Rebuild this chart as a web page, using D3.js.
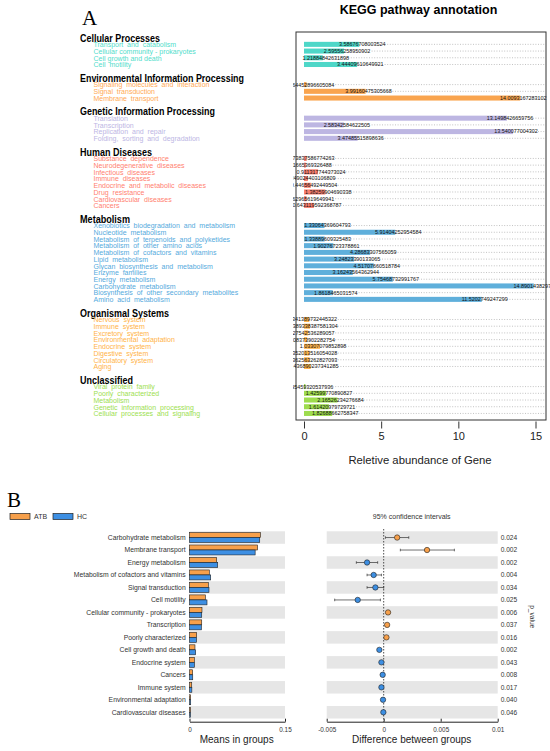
<!DOCTYPE html>
<html>
<head>
<meta charset="utf-8">
<script src="https://cdn.jsdelivr.net/npm/d3@7"></script>
<style>
  body { margin: 0; background: #fff; }
  svg { font-family: "Liberation Sans", Arial, sans-serif; }
  .lab { white-space: pre; }
</style>
</head>
<body>
<div id="chart"></div>
<script>
// ---- A: KEGG pathway annotation ----
var keggCategories = ["Cellular Processes", "Environmental Information Processing", "Genetic Information Processing",
  "Human Diseases", "Metabolism", "Organismal Systems", "Unclassified"];

var keggPathways = [
  ["Transport  and  catabolism", "Cellular community - prokaryotes", "Cell growth and death", "Cell  motility"],
  ["Signaling  molecules  and  interaction", "Signal  transduction", "Membrane  transport"],
  ["Translation", "Transcription", "Replication  and  repair", "Folding,  sorting  and  degradation"],
  ["Substance  dependence", "Neurodegenerative  diseases", "Infectious  diseases", "Immune  diseases",
   "Endocrine  and  metabolic  diseases", "Drug  resistance", "Cardiovascular  diseases", "Cancers"],
  ["Xenobiotics  biodegradation  and  metabolism", "Nucleotide  metabolism", "Metabolism  of  terpenoids  and  polyketides",
   "Metabolism  of  other  amino  acids", "Metabolism  of  cofactors  and  vitamins", "Lipid  metabolism",
   "Glycan  biosynthesis  and  metabolism", "Enzyme  families", "Energy  metabolism", "Carbohydrate  metabolism",
   "Biosynthesis  of  other  secondary  metabolites", "Amino  acid  metabolism"],
  ["Nervous  system", "Immune  system", "Excretory  system", "Environmental  adaptation", "Endocrine  system",
   "Digestive  system", "Circulatory  system", "Aging"],
  ["Viral  protein  family", "Poorly  characterized", "Metabolism", "Genetic  information  processing",
   "Cellular  processes  and  signaling"]
];

var keggValues = [
  [3.58676708003524, 2.59556258950902, 1.21884842631898, 3.44409610649921],
  [0.164452896605084, 3.99160475305668, 14.0093167283102],
  [13.1498426659756, 2.58342584622505, 13.540077004302, 3.47485515898636],
  [0.173837586774263, 0.11665369326488, 0.911317744373024, 0.249024403106809,
   0.44656492449504, 1.38259904690338, 0.162965619649941, 0.643119592368787],
  [1.33064369604793, 5.91404252954584, 1.33889609325483, 1.90276723378861, 4.28683307565059, 3.24823390133065,
   4.51707660518784, 3.16243564362944, 5.75468732991767, 14.8901438297154, 1.8618465031574, 11.5202749247299],
  [0.341389732445322, 0.389338387581304, 0.27542536289057, 0.208373902282754, 1.03307079852898,
   0.352013516054028, 0.362563262827093, 0.436890237341285],
  [0.095459320537936, 1.42599770890827, 2.16526234276684, 1.61420979729721, 1.82688662758347]
];

var keggTicks = [0, 5, 10, 15];

// ---- B: STAMP comparison ----
var stampPathways = ["Carbohydrate metabolism", "Membrane transport", "Energy metabolism",
  "Metabolism of cofactors and vitamins", "Signal transduction", "Cell motility",
  "Cellular community - prokaryotes", "Transcription", "Poorly characterized", "Cell growth and death",
  "Endocrine system", "Cancers", "Immune system", "Environmental adaptation", "Cardiovascular diseases"];
var atbMeans = [0.1115, 0.1070, 0.0427, 0.0311, 0.0296, 0.0249, 0.0196, 0.0192, 0.0113, 0.0086, 0.0076, 0.0050, 0.0035, 0.0018, 0.0016];
var hcMeans  = [0.1103, 0.1031, 0.0443, 0.0333, 0.0306, 0.0275, 0.0192, 0.0187, 0.0111, 0.0097, 0.0078, 0.0051, 0.0037, 0.0019, 0.0016];
var diffValues = [0.00118, 0.0038, -0.00146, -0.00088, -0.00073, -0.00228, 0.00038, 0.0003, 0.00024, -0.00038, -0.0002, -0.00009, -0.0002, -0.00006, -0.00003];
var ciLow  = [0.00015, 0.00146, -0.0024, -0.00146, -0.00146, -0.0043, 0.00022, 0.00017, 0.00012, -0.0005, -0.0003, -0.00015, -0.00032, -0.0001, -0.00007];
var ciHigh = [0.0022, 0.0062, -0.00053, -0.0002, 0.0, -0.00029, 0.00054, 0.00043, 0.00036, -0.00026, -0.0001, -0.00003, -0.00008, -0.00002, 0.00001];
var pValues = ["0.024", "0.002", "0.002", "0.004", "0.034", "0.025", "0.006", "0.037", "0.016", "0.002", "0.043", "0.008", "0.017", "0.040", "0.046"];
var groupNames = ["ATB", "HC"];

var catColors = ["#4ED7C8", "#F9A44E", "#BDB6E2", "#F97F6F", "#5FAFDB", "#FFB54E", "#9EDC4E"];
var labColors = ["#52DDCB", "#FFAA55", "#BCB6E4", "#FF7F70", "#55AADD", "#FFB347", "#9DE04F"];
var groupColors = ["#F7A04B", "#3D8FE3"];

var svg = d3.select("#chart").append("svg")
    .attr("width", 550)
    .attr("height", 751);

// ---------------- Panel A ----------------
svg.append("text").attr("x", 82).attr("y", 25)
    .style("font-family", "'Liberation Serif', 'Times New Roman', serif")
    .style("font-size", "21px").text("A");

svg.append("text").attr("x", 418.5).attr("y", 14).attr("text-anchor", "middle")
    .style("font-size", "12.5px").style("font-weight", "bold").text("KEGG pathway annotation");

// flatten rows, leave two empty rows between categories
var rows = [];
var idx = 0;
keggPathways.forEach(function(list, c) {
  list.forEach(function(name, j) {
    rows.push({cat: c, name: name, value: keggValues[c][j], row: idx, first: j == 0});
    idx++;
  });
  idx += 2;
});
var nRows = idx - 2;

var yA = d3.scaleBand().domain(d3.range(nRows)).range([41, 416.8]).paddingInner(0.25).paddingOuter(0.125);
var xA = d3.scaleLinear().domain([0, 15]).range([304, 535.5]);
var yMid = function(d) { return yA(d.row) + yA.bandwidth() / 2; };

// frame
svg.append("rect").attr("x", 296).attr("y", 32).attr("width", 250).attr("height", 388)
    .attr("fill", "none").attr("stroke", "#333").attr("stroke-width", 1);

// dotted guide lines
svg.selectAll(".guide").data(rows).enter().append("line")
    .attr("x1", xA(0)).attr("x2", 545)
    .attr("y1", yMid).attr("y2", yMid)
    .attr("stroke", "#9a9a9a").attr("stroke-width", 0.6).attr("stroke-dasharray", "1,1.6");

svg.selectAll(".bar").data(rows).enter().append("rect")
    .attr("x", xA(0))
    .attr("y", function(d) { return yA(d.row); })
    .attr("width", function(d) { return xA(d.value) - xA(0); })
    .attr("height", yA.bandwidth())
    .attr("fill", function(d) { return catColors[d.cat]; });

svg.append("clipPath").attr("id", "clipA").append("rect")
    .attr("x", 293).attr("y", 30).attr("width", 257).attr("height", 395);

svg.append("g").attr("clip-path", "url(#clipA)")
  .selectAll("text").data(rows).enter().append("text")
    .attr("x", function(d) { return xA(d.value) + 3; })
    .attr("y", function(d) { return yMid(d) + 1.9; })
    .attr("text-anchor", "middle")
    .style("font-size", "5.4px").attr("fill", "#111")
    .text(function(d) { return String(d.value); });

// category headers and pathway labels
rows.filter(function(d) { return d.first; }).forEach(function(d) {
  var widths = [80, 164, 135, 72, 50, 89, 53];
  svg.append("text").attr("x", 80).attr("y", yMid(d) - 2.7)
      .attr("textLength", widths[d.cat]).attr("lengthAdjust", "spacingAndGlyphs")
      .style("font-size", "10px").style("font-weight", "bold").attr("fill", "#000")
      .text(keggCategories[d.cat]);
});

svg.selectAll(".lab").data(rows).enter().append("text")
    .attr("class", "lab")
    .attr("x", 93.5)
    .attr("y", function(d) { return yMid(d) + 2.8; })
    .style("font-size", "7px")
    .attr("fill", function(d) { return labColors[d.cat]; })
    .text(function(d) { return d.name; });

// x axis
var axA = svg.append("g").attr("transform", "translate(0,421.5)")
    .call(d3.axisBottom(xA).tickValues(keggTicks).tickSize(7).tickPadding(4).tickFormat(d3.format("d")));
axA.select(".domain").remove();
axA.selectAll("text").style("font-size", "11px").attr("fill", "#222")
    .style("font-family", "'Liberation Sans', Arial, sans-serif");
axA.selectAll("line").attr("stroke", "#333");

svg.append("text").attr("x", 420).attr("y", 464).attr("text-anchor", "middle")
    .style("font-size", "11.3px").attr("fill", "#222").text("Reletive abundance of Gene");

// ---------------- Panel B ----------------
svg.append("text").attr("x", 7).attr("y", 507)
    .style("font-family", "'Liberation Serif', 'Times New Roman', serif")
    .style("font-size", "21px").text("B");

// legend
groupNames.forEach(function(g, i) {
  var lx = [10, 53][i];
  svg.append("rect").attr("x", lx).attr("y", 513.5).attr("width", 20).attr("height", 6)
      .attr("fill", groupColors[i]).attr("stroke", "#222").attr("stroke-width", 0.7);
  svg.append("text").attr("x", lx + 24).attr("y", 519.2)
      .style("font-size", "7px").attr("fill", "#333").text(g);
});

svg.append("text").attr("x", 411.7).attr("y", 519).attr("text-anchor", "middle")
    .style("font-size", "7px").attr("fill", "#333").text("95% confidence intervals");

var yB = d3.scaleBand().domain(stampPathways).range([531.3, 718.5]);
var xM = d3.scaleLinear().domain([0, 0.15]).range([189.5, 285]);
var xD = d3.scaleLinear().domain([-0.005, 0.01]).range([326.7, 497.7]);
var rowsB = stampPathways.map(function(p, i) {
  return {name: p, atb: atbMeans[i], hc: hcMeans[i], diff: diffValues[i], lo: ciLow[i], hi: ciHigh[i], p: pValues[i], i: i};
});
var bw = yB.bandwidth();

// grey bands
[xM, xD].forEach(function(sc) {
  svg.selectAll(null).data(rowsB.filter(function(d) { return d.i % 2 == 0; })).enter().append("rect")
      .attr("x", sc.range()[0]).attr("width", sc.range()[1] - sc.range()[0])
      .attr("y", function(d) { return yB(d.name); }).attr("height", bw)
      .attr("fill", "#e6e6e6");
});

svg.selectAll(".blab").data(rowsB).enter().append("text")
    .attr("x", 185.7).attr("y", function(d) { return yB(d.name) + bw / 2 + 2.4; })
    .attr("text-anchor", "end").style("font-size", "6.8px").attr("fill", "#333")
    .text(function(d) { return d.name; });

svg.selectAll(".batb").data(rowsB).enter().append("rect")
    .attr("x", xM(0)).attr("y", function(d) { return yB(d.name) + 1.2; })
    .attr("width", function(d) { return xM(d.atb) - xM(0); }).attr("height", 5)
    .attr("fill", groupColors[0]).attr("stroke", "#222").attr("stroke-width", 0.6);
svg.selectAll(".bhc").data(rowsB).enter().append("rect")
    .attr("x", xM(0)).attr("y", function(d) { return yB(d.name) + 6.2; })
    .attr("width", function(d) { return xM(d.hc) - xM(0); }).attr("height", 5)
    .attr("fill", groupColors[1]).attr("stroke", "#222").attr("stroke-width", 0.6);

// zero line
svg.append("line").attr("x1", xD(0)).attr("x2", xD(0)).attr("y1", 529).attr("y2", 721.7)
    .attr("stroke", "#222").attr("stroke-width", 0.8).attr("stroke-dasharray", "1.5,1.5");

// confidence intervals
var ci = svg.selectAll(".ci").data(rowsB).enter().append("g");
ci.append("line")
    .attr("x1", function(d) { return xD(d.lo); }).attr("x2", function(d) { return xD(d.hi); })
    .attr("y1", function(d) { return yB(d.name) + bw / 2; }).attr("y2", function(d) { return yB(d.name) + bw / 2; })
    .attr("stroke", "#333").attr("stroke-width", 0.7);
["lo", "hi"].forEach(function(k) {
  ci.append("line")
      .attr("x1", function(d) { return xD(d[k]); }).attr("x2", function(d) { return xD(d[k]); })
      .attr("y1", function(d) { return yB(d.name) + bw / 2 - 1.3; })
      .attr("y2", function(d) { return yB(d.name) + bw / 2 + 1.3; })
      .attr("stroke", "#333").attr("stroke-width", 0.7);
});
ci.append("circle")
    .attr("cx", function(d) { return xD(d.diff); }).attr("cy", function(d) { return yB(d.name) + bw / 2; })
    .attr("r", 2.7)
    .attr("fill", function(d) { return d.diff > 0 ? groupColors[0] : groupColors[1]; })
    .attr("stroke", "#222").attr("stroke-width", 0.6);

svg.selectAll(".pv").data(rowsB).enter().append("text")
    .attr("x", 500.7).attr("y", function(d) { return yB(d.name) + bw / 2 + 2.3; })
    .style("font-size", "6.6px").attr("fill", "#333").text(function(d) { return d.p; });

svg.append("text").attr("transform", "translate(529.5,616.7) rotate(90)")
    .attr("text-anchor", "middle").style("font-size", "6.6px").attr("fill", "#333").text("p_value");

// axes B
var axM = svg.append("g").attr("transform", "translate(0,721.7)")
    .call(d3.axisBottom(xM).tickValues([0, 0.15]).tickSizeInner(-3).tickSizeOuter(0).tickPadding(6)
      .tickFormat(function(d) { return String(d); }));
var axD = svg.append("g").attr("transform", "translate(0,721.7)")
    .call(d3.axisBottom(xD).tickValues([-0.005, 0, 0.005, 0.01]).tickSizeInner(-3).tickSizeOuter(0).tickPadding(6)
      .tickFormat(function(d) { return String(d); }));
[axM, axD].forEach(function(ax) {
  ax.selectAll("text").style("font-size", "6.4px").attr("fill", "#333")
      .style("font-family", "'Liberation Sans', Arial, sans-serif");
  ax.select(".domain").attr("stroke", "#222").attr("stroke-width", 1);
  ax.selectAll("line").attr("stroke", "#222");
});

svg.append("text").attr("x", 236.7).attr("y", 743).attr("text-anchor", "middle")
    .style("font-size", "10px").attr("fill", "#222").text("Means in groups");
svg.append("text").attr("x", 411.7).attr("y", 743).attr("text-anchor", "middle")
    .style("font-size", "10px").attr("fill", "#222").text("Difference between groups");
</script>
</body>
</html>
